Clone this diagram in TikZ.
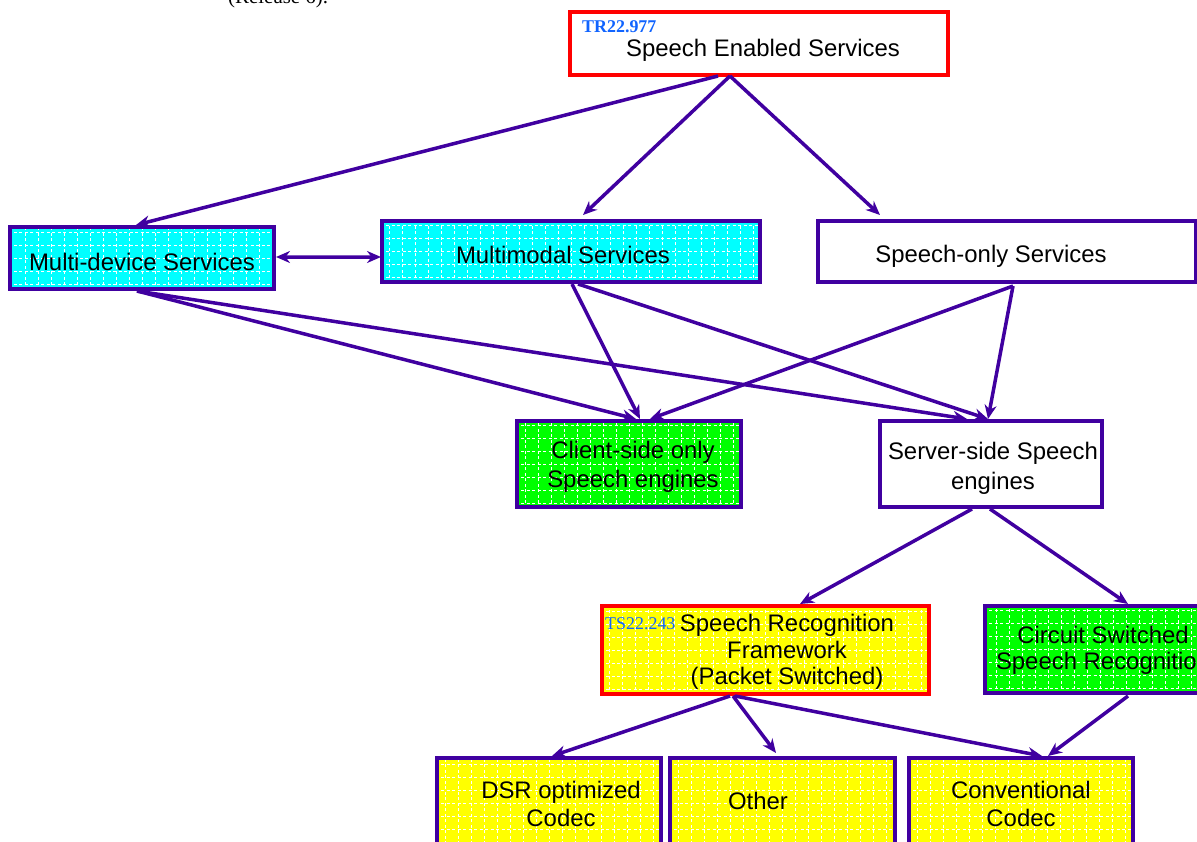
\documentclass[tikz,border=0pt]{standalone}
\usepackage{fontspec}
\setmainfont{Liberation Sans}
\newfontfamily\tmsfont{Liberation Serif}
\usetikzlibrary{arrows.meta,calc}
\definecolor{pur}{RGB}{64,0,160}
\definecolor{tagblue}{RGB}{16,100,255}
\definecolor{cyanfill}{RGB}{0,255,255}
\definecolor{greenfill}{RGB}{0,255,0}
\definecolor{yellowfill}{RGB}{255,255,0}
\begin{document}
\begin{tikzpicture}[x=1bp,y=-1bp,
  box/.style={draw=pur,line width=3.5bp,inner sep=0pt,outer sep=0pt},
  redbox/.style={box,draw=red},
  dither/.style={path picture={\draw[white,line width=0.7bp,dash pattern=on 3bp off 2.5bp]
      ([xshift=4bp,yshift=4bp]path picture bounding box.south west) grid[step=13bp]
      (path picture bounding box.north east);}},
  txt/.style={align=center,inner sep=0pt,font=\fontsize{24}{27}\selectfont},
  tag/.style={anchor=west,inner sep=0pt,text=tagblue,font=\tmsfont\fontsize{18}{18}\selectfont},
  arr/.style={draw=pur,line width=3.5bp,-{Stealth[length=14bp,width=12bp]}},
  darr/.style={draw=pur,line width=3.5bp,{Stealth[length=14bp,width=12bp]}-{Stealth[length=14bp,width=12bp]}}]
\useasboundingbox (0,0) rectangle (1197,842);
\clip (0,0) rectangle (1197,842);
\fill[white] (0,0) rectangle (1197,842);

% cut-off caption
\node[anchor=base west,inner sep=0pt,font=\tmsfont\fontsize{21}{21}\selectfont] (cap) at (228,3) {(Release 6).};

% boxes
\node[redbox,fill=white,minimum width=378bp,minimum height=63bp] (ses) at (759,43.5) {};
\node[box,fill=cyanfill,dither,minimum width=264bp,minimum height=62bp] (md) at (142,258) {};
\node[box,fill=cyanfill,dither,minimum width=378bp,minimum height=61bp] (mm) at (571,251.5) {};
\node[box,fill=white,minimum width=378bp,minimum height=61bp] (so) at (1007,251.5) {};
\node[box,fill=greenfill,dither,minimum width=224bp,minimum height=86bp] (cl) at (629,464) {};
\node[box,fill=white,minimum width=222bp,minimum height=86bp] (sv) at (991,464) {};
\node[redbox,fill=yellowfill,dither,minimum width=327bp,minimum height=88bp] (srf) at (765.5,650) {};
\node[box,fill=greenfill,dither,minimum width=230bp,minimum height=87bp] (cs) at (1100,649.5) {};
\node[box,fill=yellowfill,dither,minimum width=224bp,minimum height=90bp] (dsr) at (549,803) {};
\node[box,fill=yellowfill,dither,minimum width=225bp,minimum height=90bp] (ot) at (782.5,803) {};
\node[box,fill=yellowfill,dither,minimum width=224bp,minimum height=90bp] (cv) at (1021,803) {};

% texts
\node[tag,font=\tmsfont\bfseries\fontsize{18}{18}\selectfont] (sestag) at (582,27) {TR22.977};
\node[txt] (sest) at (763,50) {Speech Enabled Services};
\node[txt] (mdt) at (142,262) {Multi-device Services};
\node[txt] (mmt) at (563,255) {Multimodal Services};
\node[txt] (sot) at (991,256) {Speech-only Services};
\node[txt,font=\fontsize{24}{29}\selectfont] (clt) at (633,467) {Client-side only\\Speech engines};
\node[txt,font=\fontsize{24}{30}\selectfont] (svt) at (993,468) {Server-side Speech\\engines};
\node[tag] (srftag) at (605,624) {TS22.243};
\node[txt,font=\fontsize{24}{26.5}\selectfont] (srft) at (787,652) {Speech Recognition\\Framework\\(Packet Switched)};
\node[txt,font=\fontsize{24}{26}\selectfont] (cst) at (1103,650) {Circuit Switched\\Speech Recognition};
\node[txt,font=\fontsize{24}{28}\selectfont] (dsrt) at (561,804) {DSR optimized\\Codec};
\node[txt] (ott) at (758,801) {Other};
\node[txt,font=\fontsize{24}{28}\selectfont] (cvt) at (1021,804) {Conventional\\Codec};

% connectors
\draw[arr] ($(ses.south)+(-41,1)$) -- ($(md.north)+(-6,-2)$);
\draw[arr] ($(ses.south)+(-29,1)$) -- ($(mm.north)+(12,-6)$);
\draw[arr] ($(ses.south)+(-29,1)$) -- ($(so.north)+(-127,-6)$);
\draw[darr] ($(md.east)+(2,-1)$) -- ($(mm.west)+(-1,5.5)$);
\draw[arr] ($(md.south)+(-5,2)$) -- ($(cl.north)+(7,-2)$);
\draw[arr] ($(md.south)+(-5,2)$) -- ($(sv.north)+(-24,-2)$);
\draw[arr] ($(mm.south)+(1,2)$) -- ($(cl.north)+(11,-2)$);
\draw[arr] ($(mm.south)+(7,2)$) -- ($(sv.north)+(-3,-2)$);
\draw[arr] ($(so.south)+(6,4)$) -- ($(cl.north)+(21,-2)$);
\draw[arr] ($(so.south)+(6,4)$) -- ($(sv.north)+(-3,-2)$);
\draw[arr] ($(sv.south)+(-19,2)$) -- ($(srf.north)+(34.5,-2)$);
\draw[arr] ($(sv.south)+(-1,2)$) -- ($(cs.north)+(28,-2)$);
\draw[arr] ($(srf.south)+(-35.5,2)$) -- ($(dsr.north)+(3,-2)$);
\draw[arr] ($(srf.south)+(-32.5,2)$) -- ($(ot.north)+(-6.5,-5)$);
\draw[arr] ($(srf.south)+(-30.5,2)$) -- ($(cv.north)+(21,-2)$);
\draw[arr] ($(cs.south)+(28,3)$) -- ($(cv.north)+(27,-2)$);
\end{tikzpicture}
\end{document}
